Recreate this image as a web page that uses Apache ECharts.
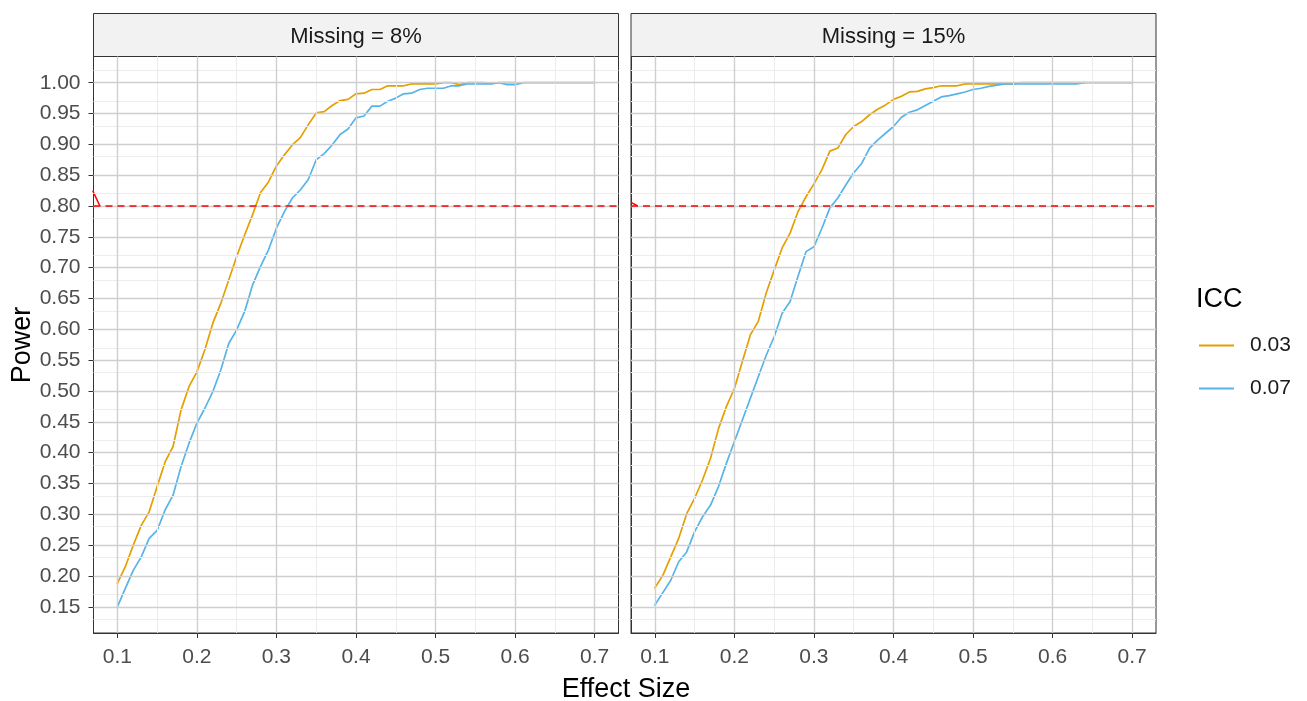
<!DOCTYPE html>
<html>
<head>
<meta charset="utf-8">
<title>Power by effect size</title>
<script src="https://cdn.jsdelivr.net/npm/echarts@6.0.0/dist/echarts.min.js"></script>
<style>
  html, body { margin: 0; padding: 0; background: #fff; }
  #chart { width: 1307px; height: 701px; }
</style>
</head>
<body>
<div id="chart"></div>
<script>
// effect sizes (x values)
var effectSize = [0.10, 0.11, 0.12, 0.13, 0.14, 0.15, 0.16, 0.17, 0.18, 0.19,
  0.20, 0.21, 0.22, 0.23, 0.24, 0.25, 0.26, 0.27, 0.28, 0.29,
  0.30, 0.31, 0.32, 0.33, 0.34, 0.35, 0.36, 0.37, 0.38, 0.39,
  0.40, 0.41, 0.42, 0.43, 0.44, 0.45, 0.46, 0.47, 0.48, 0.49,
  0.50, 0.51, 0.52, 0.53, 0.54, 0.55, 0.56, 0.57, 0.58, 0.59,
  0.60, 0.61, 0.62, 0.63, 0.64, 0.65, 0.66, 0.67, 0.68, 0.69, 0.70];

// Missing = 8%
var miss8Icc03 = [0.188, 0.215, 0.250, 0.282, 0.304, 0.345, 0.385, 0.410, 0.469, 0.507,
  0.531, 0.567, 0.610, 0.642, 0.680, 0.718, 0.753, 0.786, 0.822, 0.839,
  0.865, 0.883, 0.899, 0.911, 0.932, 0.951, 0.953, 0.963, 0.971, 0.973,
  0.982, 0.983, 0.989, 0.989, 0.995, 0.995, 0.995, 0.998, 0.998, 0.998,
  0.998, 1.000, 1.000, 0.997, 1.000, 1.000, 1.000, 0.999, 1.000, 1.000,
  1.000];
var miss8Icc07 = [0.150, 0.180, 0.209, 0.231, 0.261, 0.274, 0.307, 0.331, 0.377, 0.415,
  0.448, 0.472, 0.499, 0.534, 0.577, 0.599, 0.629, 0.672, 0.702, 0.729,
  0.764, 0.791, 0.813, 0.826, 0.843, 0.875, 0.885, 0.899, 0.916, 0.925,
  0.943, 0.946, 0.962, 0.962, 0.970, 0.975, 0.982, 0.983, 0.989, 0.991,
  0.991, 0.991, 0.995, 0.995, 0.998, 0.998, 0.998, 0.998, 1.000, 0.997,
  0.997, 1.000, 1.000, 1.000, 1.000, 1.000, 1.000, 1.000, 1.000, 1.000, 1.000];

// Missing = 15%
var miss15Icc03 = [0.181, 0.201, 0.231, 0.261, 0.301, 0.326, 0.356, 0.391, 0.439, 0.475,
  0.504, 0.548, 0.591, 0.613, 0.659, 0.696, 0.732, 0.756, 0.791, 0.815,
  0.836, 0.859, 0.889, 0.894, 0.916, 0.929, 0.937, 0.948, 0.957, 0.964,
  0.973, 0.978, 0.985, 0.986, 0.990, 0.992, 0.995, 0.995, 0.995, 0.998,
  0.998, 0.998, 0.998, 0.998, 0.998, 0.998, 1.000, 1.000, 1.000, 1.000,
  1.000, 1.000, 1.000, 1.000, 1.000];
var miss15Icc07 = [0.153, 0.173, 0.193, 0.223, 0.239, 0.272, 0.296, 0.315, 0.345, 0.383,
  0.418, 0.453, 0.488, 0.523, 0.558, 0.588, 0.626, 0.645, 0.686, 0.726,
  0.734, 0.764, 0.797, 0.813, 0.834, 0.854, 0.869, 0.894, 0.907, 0.918,
  0.929, 0.944, 0.952, 0.956, 0.963, 0.970, 0.977, 0.979, 0.982, 0.985,
  0.989, 0.991, 0.994, 0.996, 0.998, 0.998, 0.998, 0.998, 0.998, 0.998,
  0.998, 0.998, 0.998, 0.998, 1.000, 1.000, 1.000, 1.000, 1.000, 1.000, 1.000];

// small red stroke at the left edge of each panel
var redStroke8 = [[0.069, 0.825], [0.078, 0.80]];
var redStroke15 = [[0.070, 0.806], [0.0785, 0.80]];

var targetPower = 0.80;
var panelNames = ['Missing = 8%', 'Missing = 15%'];
var iccNames = ['0.03', '0.07'];

// ticks
var xMajor = [0.1, 0.2, 0.3, 0.4, 0.5, 0.6, 0.7];
var xMinor = [0.15, 0.25, 0.35, 0.45, 0.55, 0.65];
var yMajor = [0.15, 0.20, 0.25, 0.30, 0.35, 0.40, 0.45, 0.50, 0.55, 0.60,
  0.65, 0.70, 0.75, 0.80, 0.85, 0.90, 0.95, 1.00];
var yMinor = [0.125, 0.175, 0.225, 0.275, 0.325, 0.375, 0.425, 0.475, 0.525, 0.575,
  0.625, 0.675, 0.725, 0.775, 0.825, 0.875, 0.925, 0.975, 1.025];

var FONT = '"Liberation Sans", Arial, Helvetica, sans-serif';
var ORANGE = '#E69F00';
var BLUE = '#56B4E9';

var myChart = echarts.init(document.getElementById('chart'));

function pairs(ys) {
  return ys.map(function(y, i) { return [effectSize[i], y]; });
}

// panel grid lines drawn as mark lines so they sit on the real breaks
function gridSeries(idx) {
  var data = [];
  xMinor.forEach(function(v) { data.push({ xAxis: v, lineStyle: { color: '#ececec', width: 1 } }); });
  yMinor.forEach(function(v) { data.push({ yAxis: v, lineStyle: { color: '#ececec', width: 1 } }); });
  xMajor.forEach(function(v) { data.push({ xAxis: v, lineStyle: { color: '#cfcfcf', width: 1.4 } }); });
  yMajor.forEach(function(v) { data.push({ yAxis: v, lineStyle: { color: '#cfcfcf', width: 1.4 } }); });
  data.push({ yAxis: targetPower, lineStyle: { color: '#ff0000', width: 1.5, type: [7, 5] } });
  return {
    type: 'line', xAxisIndex: idx, yAxisIndex: idx, data: [], z: 1,
    silent: true,
    markLine: {
      silent: true, symbol: ['none', 'none'], label: { show: false },
      emphasis: { disabled: true }, animation: false,
      lineStyle: { type: 'solid' },
      data: data
    }
  };
}

function curve(name, ys, color, idx) {
  return {
    name: name, type: 'line', xAxisIndex: idx, yAxisIndex: idx,
    data: pairs(ys), showSymbol: false, symbol: 'none', z: 3,
    lineStyle: { color: color, width: 1.7, type: 'solid', cap: 'round', join: 'round' },
    itemStyle: { color: color }
  };
}

function redLine(pts, idx) {
  return {
    type: 'line', xAxisIndex: idx, yAxisIndex: idx, data: pts, showSymbol: false,
    symbol: 'none', z: 3, silent: true, lineStyle: { color: '#ff0000', width: 1.5 }
  };
}

var panelLeft = [93.5, 631];
var panelWidth = 525;
var panelTop = 56.5;
var panelHeight = 576.5;

var option = {
  animation: false,
  backgroundColor: '#fff',
  textStyle: { fontFamily: FONT },
  grid: panelLeft.map(function(l) {
    return { left: l, top: panelTop, width: panelWidth, height: panelHeight,
      show: true, backgroundColor: '#fff', borderColor: '#333', borderWidth: 1 };
  }),
  xAxis: [0, 1].map(function(i) {
    return {
      gridIndex: i, type: 'value', min: 0.07, max: 0.73,
      axisLine: { show: true, lineStyle: { color: '#333', width: 1 } },
      splitLine: { show: false },
      axisTick: { show: true, length: 5, lineStyle: { color: '#333' }, customValues: xMajor },
      axisLabel: { customValues: xMajor, fontSize: 21, color: '#4d4d4d', margin: 14, fontFamily: FONT,
        formatter: function(v) { return v.toFixed(1); } }
    };
  }),
  yAxis: [0, 1].map(function(i) {
    return {
      gridIndex: i, type: 'value', min: 0.1075, max: 1.0425,
      axisLine: { show: true, lineStyle: { color: '#333', width: 1 } },
      splitLine: { show: false },
      axisTick: { show: i === 0, length: 5, lineStyle: { color: '#333' }, customValues: yMajor },
      axisLabel: { show: i === 0, customValues: yMajor, fontSize: 21, color: '#4d4d4d', margin: 13, fontFamily: FONT,
        formatter: function(v) { return v.toFixed(2); } }
    };
  }),
  legend: {
    data: iccNames, orient: 'vertical', left: 1194, top: 330,
    icon: 'rect', itemWidth: 35, itemHeight: 2, itemGap: 22,
    selectedMode: false,
    textStyle: { fontSize: 21, color: '#1a1a1a', fontFamily: FONT, lineHeight: 20, padding: [0, 0, 0, 11] }
  },
  graphic: [
    { type: 'rect', shape: { x: panelLeft[0], y: 13.5, width: panelWidth, height: 43 },
      style: { fill: '#f2f2f2', stroke: '#333', lineWidth: 1 }, silent: true },
    { type: 'rect', shape: { x: panelLeft[1], y: 13.5, width: panelWidth, height: 43 },
      style: { fill: '#f2f2f2', stroke: '#333', lineWidth: 1 }, silent: true },
    { type: 'text', x: panelLeft[0] + panelWidth / 2, y: 37,
      style: { text: panelNames[0], font: '22px ' + FONT, fill: '#1a1a1a', textAlign: 'center', textVerticalAlign: 'middle' } },
    { type: 'text', x: panelLeft[1] + panelWidth / 2, y: 37,
      style: { text: panelNames[1], font: '22px ' + FONT, fill: '#1a1a1a', textAlign: 'center', textVerticalAlign: 'middle' } },
    { type: 'text', x: 626, y: 690,
      style: { text: 'Effect Size', font: '27px ' + FONT, fill: '#000', textAlign: 'center', textVerticalAlign: 'middle' } },
    { type: 'text', x: 23, y: 345, rotation: Math.PI / 2,
      style: { text: 'Power', font: '27px ' + FONT, fill: '#000', textAlign: 'center', textVerticalAlign: 'middle' } },
    { type: 'text', x: 1196, y: 300,
      style: { text: 'ICC', font: '27px ' + FONT, fill: '#000', textAlign: 'left', textVerticalAlign: 'middle' } }
  ],
  series: [
    gridSeries(0),
    gridSeries(1),
    redLine(redStroke8, 0),
    redLine(redStroke15, 1),
    curve(iccNames[0], miss8Icc03, ORANGE, 0),
    curve(iccNames[1], miss8Icc07, BLUE, 0),
    curve(iccNames[0], miss15Icc03, ORANGE, 1),
    curve(iccNames[1], miss15Icc07, BLUE, 1)
  ]
};

myChart.setOption(option);
</script>
</body>
</html>
